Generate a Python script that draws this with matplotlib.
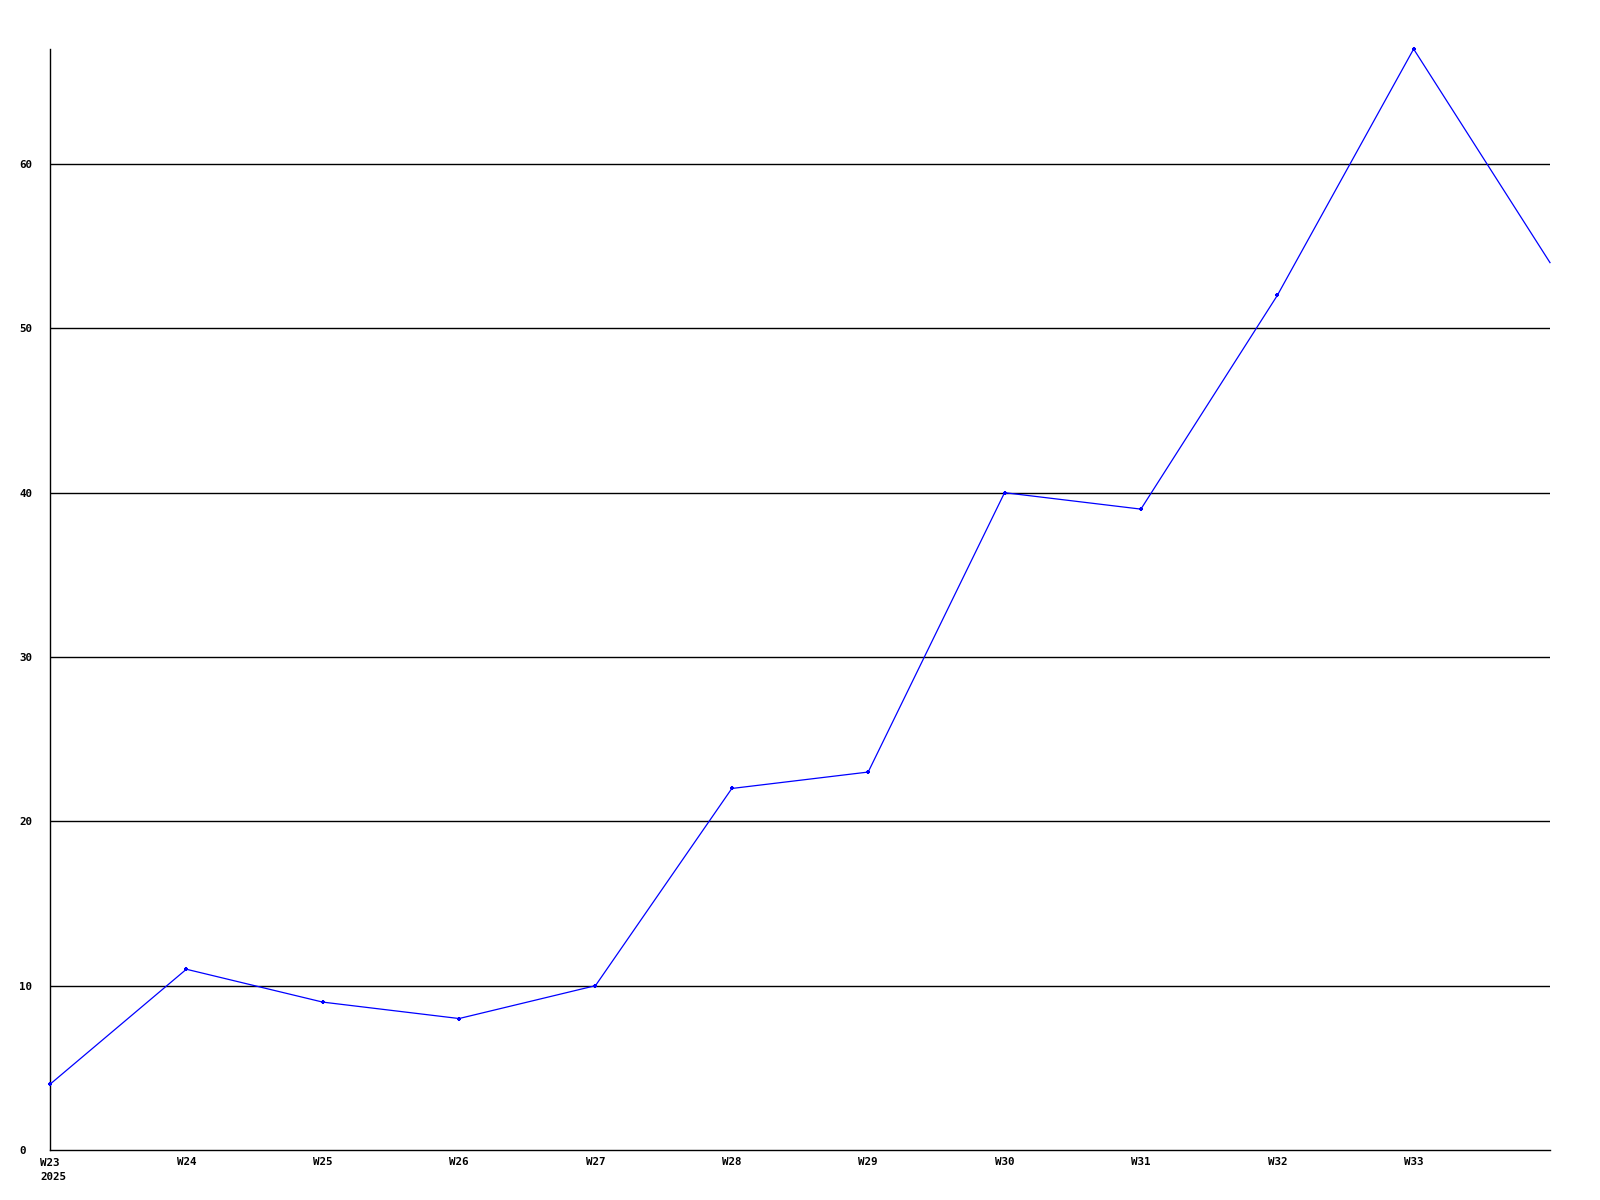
#!/usr/bin/env python3
# -*- coding: utf-8 -*-

"""
Weekly count line chart, W23-W34 2025
"""

import matplotlib
matplotlib.use("Agg")
import matplotlib.pyplot as plt

# === Data ===
WEEKS = ["W23", "W24", "W25", "W26", "W27", "W28", "W29", "W30", "W31", "W32", "W33", "W34"]
COUNTS = [4, 11, 9, 8, 10, 22, 23, 40, 39, 52, 67, 54]
TICK_LABELS = ["W23\n2025", "W24", "W25", "W26", "W27", "W28", "W29", "W30", "W31", "W32", "W33"]
Y_TICKS = [0, 10, 20, 30, 40, 50, 60]
Y_MAX = 67

FONT = {"family": "DejaVu Sans Mono", "weight": "bold", "size": 7.8}


def main():
    fig = plt.figure(figsize=(16, 12), dpi=100)
    ax = fig.add_axes([50 / 1600, 50 / 1200, 1500 / 1600, 1101 / 1200])

    x = list(range(len(WEEKS)))

    # horizontal grid lines (not at zero)
    for yv in Y_TICKS[1:]:
        ax.axhline(yv, color="black", lw=1.0, zorder=1)

    # last point lies on the right edge, no marker there
    ax.plot(x, COUNTS, color="#0000ff", lw=0.9, marker="+", ms=3.5, mew=1.5,
            markevery=list(range(len(x) - 1)), zorder=3, clip_on=False)

    ax.set_xlim(0, len(WEEKS) - 1)
    ax.set_ylim(0, Y_MAX)

    for s in ["top", "right"]:
        ax.spines[s].set_visible(False)
    for s in ["left", "bottom"]:
        ax.spines[s].set_color("black")
        ax.spines[s].set_linewidth(1.0)

    # first label is left-aligned block with the year under it
    ax.set_xticks(x[:len(TICK_LABELS)])
    ax.set_xticklabels([""] + TICK_LABELS[1:], fontdict=FONT)
    ax.annotate(TICK_LABELS[0], xy=(x[0], 0), xycoords=("data", "axes fraction"),
                xytext=(-7.2, -5.4), textcoords="offset points",
                ha="left", va="top", linespacing=1.5, **FONT)

    ax.set_yticks(Y_TICKS)
    ax.set_yticklabels([str(v) for v in Y_TICKS], fontdict=FONT)
    for lbl in ax.get_yticklabels():
        lbl.set_horizontalalignment("left")

    ax.tick_params(axis="x", length=0, pad=5)
    ax.tick_params(axis="y", length=0, pad=22)

    fig.savefig("out.png", dpi=100, facecolor="white")


if __name__ == "__main__":
    main()
